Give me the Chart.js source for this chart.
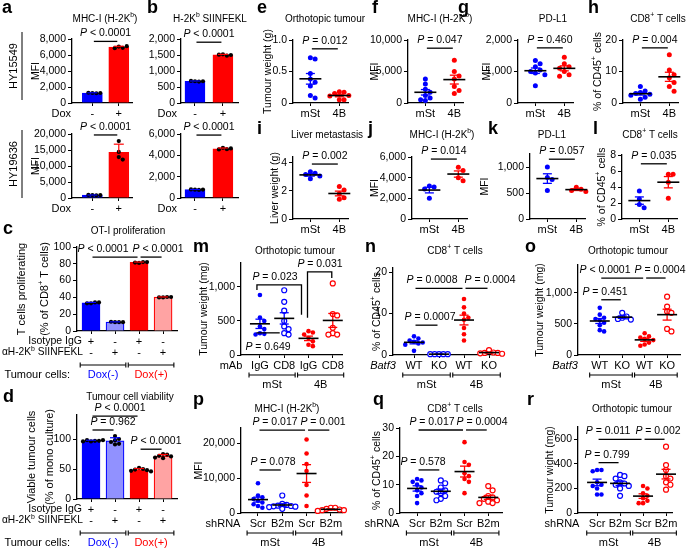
<!DOCTYPE html>
<html>
<head>
<meta charset="utf-8">
<script src="https://cdn.jsdelivr.net/npm/chart.js@4.4.0/dist/chart.umd.min.js"></script>
<style>
  html, body { margin: 0; padding: 0; background: #fff; }
  #fig { position: relative; width: 686px; height: 548px; overflow: hidden; }
  #fig canvas { position: absolute; left: 0; top: 0; }
</style>
</head>
<body>
<div id="fig"></div>
<script>
// ---- data ----
// a / b: MFI, Dox - / +, two cell lines
const doxTicks = ['-', '+']
const aHY15549Neg = [1250, 1220, 1280, 1250]
const aHY15549Pos = [7050, 6900, 6850, 7100]
const aHY19636Neg = [900, 850, 950, 900]
const aHY19636Pos = [17800, 14400, 12800, 12000]
const bHY15549Neg = [680, 670, 690, 680]
const bHY15549Pos = [1520, 1480, 1510, 1500]
const bHY19636Neg = [780, 760, 800, 790]
const bHY19636Pos = [4700, 4580, 4550, 4650]

// c / d: co-culture, isotype IgG vs anti-H-2Kb SIINFEKL
const treatTicks = [['+', '-'], ['-', '+'], ['+', '-'], ['-', '+']]
const cIgGNeg = [33, 34, 33, 34]
const cAbNeg = [10.5, 10.5, 11, 10.5]
const cIgGPos = [81, 82, 81.5, 82]
const cAbPos = [40, 40.5, 40, 40.5]
const dIgGNeg = [96, 97, 98, 97, 96, 98]
const dAbNeg = [105, 100, 98, 95, 92, 91]
const dIgGPos = [52, 50, 49, 48, 47, 46]
const dAbPos = [75, 74, 72, 71, 69, 68]

// e - l: mSt vs 4B
const pairTicks = ['mSt', '4B']
const eMSt = [0.72, 0.70, 0.47, 0.38, 0.33, 0.27, 0.12, 0.08]
const eFourB = [0.18, 0.17, 0.15, 0.12, 0.11, 0.05, 0.05]
const fMSt = [3800, 3000, 2200, 1700, 1200, 800, 500, 400]
const fFourB = [6800, 5000, 4300, 3800, 2600, 2000, 1500]
const gMSt = [1350, 1250, 1150, 1050, 1000, 950, 900, 550]
const gFourB = [1450, 1250, 1150, 1100, 1000, 900, 850]
const hMSt = [5.2, 3.8, 3.3, 3.0, 2.8, 2.5, 1.8, 1.2]
const hFourB = [15.3, 10.5, 9.0, 8.0, 6.5, 5.2, 3.7]
const iMSt = [3.35, 3.25, 3.15, 3.05, 2.85]
const iFourB = [2.3, 2.05, 1.8, 1.5, 1.4]
const jMSt = [3200, 3100, 2900, 2000]
const jFourB = [5000, 4700, 4000, 3700]
const kMSt = [1000, 800, 760, 550]
const kFourB = [610, 570, 550, 530]
const lMSt = [3.5, 2.5, 1.8, 1.4]
const lFourB = [5.6, 5.6, 4.6, 2.6]

// m: antibody depletion
const mAbTicks = ['IgG', 'CD8', 'IgG', 'CD8']
const mIgGMSt = [880, 550, 500, 420, 380, 320, 310, 300]
const mCD8MSt = [950, 780, 650, 500, 420, 380, 320, 300]
const mIgGFourB = [350, 330, 300, 250, 200, 150, 130]
const mCD8FourB = [1050, 600, 580, 400, 320, 300, 300]

// n / o: Batf3 WT vs KO hosts
const batfTicks = ['WT', 'KO', 'WT', 'KO']
const nWTMSt = [4.5, 4.0, 3.5, 3.2, 3.0, 2.8, 2.5, 1.0]
const nKOMSt = [0.2, 0.2, 0.2, 0.2, 0.2]
const nWTFourB = [13.5, 11.5, 10.0, 9.0, 8.5, 6.5, 5.0, 3.5]
const nKOFourB = [1.2, 0.6, 0.5, 0.5, 0.4, 0.3]
const oWTMSt = [760, 650, 600, 580, 560, 520, 480, 400, 380]
const oKOMSt = [680, 620, 600, 580, 570]
const oWTFourB = [350, 300, 280, 260, 240, 200, 170, 150]
const oKOFourB = [940, 780, 700, 680, 420, 380]

// p - r: shRNA Scr vs B2m
const shTicks = ['Scr', 'B2m', 'Scr', 'B2m']
const pScrMSt = [8500, 5000, 4500, 4000, 3500, 3000, 2500, 2000, 1500]
const pB2mMSt = [5000, 2600, 2300, 2100, 2000, 1900, 1800, 1700, 1200]
const pScrFourB = [21000, 17000, 14000, 12000, 8000, 5000, 2000]
const pB2mFourB = [1500, 1500, 1200, 1000, 800, 800, 600]
const qScrMSt = [12, 11.5, 11, 10, 9, 8, 7, 6, 3.5]
const qB2mMSt = [11.5, 10.5, 9, 8, 7.5, 7, 6, 5, 4.5]
const qScrFourB = [25, 18, 17, 14, 13, 12, 11, 7]
const qB2mFourB = [9.5, 8, 6, 5.5, 5, 4.5, 4, 3.5, 3.5]
const rScrMSt = [350, 350, 340, 250, 230, 220, 200, 150, 150]
const rB2mMSt = [310, 300, 280, 250, 240, 230, 220, 200, 140]
const rScrFourB = [220, 200, 160, 140, 120, 100, 80, 80]
const rB2mFourB = [540, 390, 350, 300, 280, 250, 230, 190]

// ---- drawing ----
const W = 686
const H = 548
const FONT = "'Liberation Sans', Arial, Helvetica, sans-serif"
const BLUE = '#0000ff'
const RED = '#ff0000'
const LBLUE = '#9191ff'
const PINK = '#ffa3a3'
Chart.defaults.font.family = FONT
Chart.defaults.color = '#000'

const mean = (a) => a.reduce((s, v) => s + v, 0) / a.length
const sd = (a) => {
  const m = mean(a)
  return Math.sqrt(a.reduce((s, v) => s + (v - m) ** 2, 0) / (a.length - 1))
}
const sem = (a) => sd(a) / Math.sqrt(a.length)

// text with *italic* and ^superscript^ parts
function rich (ctx, s, x, y, size, align, color) {
  const parts = s.split(/(\*[^*]+\*|\^[^^]+\^)/).filter(Boolean).map(t => {
    if (t[0] === '*') return { t: t.slice(1, -1), st: 'italic ', sz: size, dy: 0 }
    if (t[0] === '^') return { t: t.slice(1, -1), st: '', sz: size * 0.68, dy: -size * 0.38 }
    return { t, st: '', sz: size, dy: 0 }
  })
  let w = 0
  parts.forEach(q => {
    ctx.font = `${q.st}${q.sz}px ${FONT}`
    q.w = ctx.measureText(q.t).width
    w += q.w
  })
  let cx = align === 'center' ? x - w / 2 : align === 'right' ? x - w : x
  ctx.fillStyle = color || '#000'
  ctx.textAlign = 'left'
  ctx.textBaseline = 'middle'
  parts.forEach(q => {
    ctx.font = `${q.st}${q.sz}px ${FONT}`
    ctx.fillText(q.t, cx, y + q.dy)
    cx += q.w
  })
}

function vtext (ctx, s, x, y, size) {
  ctx.save()
  ctx.translate(x, y)
  ctx.rotate(-Math.PI / 2)
  rich(ctx, s, 0, 0, size, 'center')
  ctx.restore()
}

function line (ctx, pts, lw, color) {
  ctx.strokeStyle = color || '#000'
  ctx.lineWidth = lw
  ctx.beginPath()
  pts.forEach(([x, y], i) => (i ? ctx.lineTo(x, y) : ctx.moveTo(x, y)))
  ctx.stroke()
}

// horizontal spreading of overlapping dots (beeswarm)
function spread (vals, gi, p, r) {
  const pxY = (p.B - p.T) / p.yMax
  const pxX = (p.R - p.L) / (p.xmax - p.xmin)
  const d = r * 2
  const placed = []
  return vals.map(v => {
    const y = v * pxY
    let off = 0
    for (const c of [0, 1, -1, 2, -2, 3, -3, 4, -4]) {
      const ox = c * d * 0.95
      if (placed.every(q => Math.hypot(q.x - ox, q.y - y) >= d * 0.95)) { off = ox; break }
    }
    placed.push({ x: off, y })
    return { x: gi + off / pxX, y: v }
  })
}

function decoPlugin (p) {
  return {
    id: 'deco',
    afterDatasetsDraw (chart) {
      const { ctx } = chart
      const xs = chart.scales.x
      const ys = chart.scales.y
      p.groups.forEach((g, i) => {
        const x = xs.getPixelForValue(i)
        const m = mean(g.data)
        if (p.kind === 'bar') {
          const top = ys.getPixelForValue(m + sd(g.data))
          line(ctx, [[x, ys.getPixelForValue(m)], [x, top]], 1.2, g.edge)
          line(ctx, [[x - 5, top], [x + 5, top]], 1.2, g.edge)
        } else {
          const e = sem(g.data)
          const y0 = ys.getPixelForValue(m - e)
          const y1 = ys.getPixelForValue(m + e)
          const hw = p.meanW || 11
          line(ctx, [[x, y0], [x, y1]], 1.3, g.color)
          line(ctx, [[x - 4.5, y0], [x + 4.5, y0]], 1.3, g.color)
          line(ctx, [[x - 4.5, y1], [x + 4.5, y1]], 1.3, g.color)
          line(ctx, [[x - hw, ys.getPixelForValue(m)], [x + hw, ys.getPixelForValue(m)]], 1.6, '#000')
        }
      })
    },
    afterDraw (chart) {
      const { ctx } = chart
      const xs = chart.scales.x
      const ys = chart.scales.y
      if (p.letter) {
        ctx.font = `bold 18px ${FONT}`
        ctx.fillStyle = '#000'
        ctx.textAlign = 'left'
        ctx.textBaseline = 'alphabetic'
        ctx.fillText(p.letter[0], p.letter[1], p.letter[2])
      }
      if (p.title) rich(ctx, p.title[0], p.title[1], p.title[2], 10, 'center')
      const yc = (p.T + p.B) / 2
      ;(p.yTitles || []).forEach(([t, x]) => vtext(ctx, t, x, yc, p.yTitleSize || 10.5))
      if (p.side) {
        const s = p.side
        vtext(ctx, s.t, s.x, (s.y0 + s.y1) / 2, 11)
        line(ctx, [[s.lx, s.y0], [s.lx, s.y1]], 1, '#000')
      }
      ;(p.rows || []).forEach(r => rich(ctx, r.t, r.x, r.y, r.size || 11, r.align || 'right', r.color))
      ;(p.brackets || []).forEach(b => {
        const x0 = xs.getPixelForValue(b.i0 - 0.45)
        const x1 = xs.getPixelForValue(b.i1 + 0.45)
        line(ctx, [[x0, p.bracketY], [x1, p.bracketY]], 1.1, '#000')
        line(ctx, [[x0, p.bracketY - 2.5], [x0, p.bracketY + 2.5]], 1.1, '#000')
        line(ctx, [[x1, p.bracketY - 2.5], [x1, p.bracketY + 2.5]], 1.1, '#000')
        rich(ctx, b.t, (x0 + x1) / 2, p.bracketLabelY, 11, 'center', b.color)
      })
      ;(p.pvals || []).forEach(a => {
        const yy = ys.getPixelForValue(a.y)
        const xa = xs.getPixelForValue(a.a) + (a.aOff || 0)
        const xb = xs.getPixelForValue(a.b) + (a.bOff || 0)
        if (a.legA !== undefined) {
          line(ctx, [[xa, ys.getPixelForValue(a.legA)], [xa, yy], [xb, yy], [xb, ys.getPixelForValue(a.legB)]], 1.3)
        } else {
          line(ctx, [[xa + 1.5, yy], [xb - 1.5, yy]], 1.3)
        }
        const tx = a.tx !== undefined ? a.tx : (xa + xb) / 2
        rich(ctx, a.t, tx, a.below ? yy + 14 : yy - 8, 10.5, 'center')
      })
    }
  }
}

function makePanel (p) {
  const cv = document.createElement('canvas')
  cv.width = W
  cv.height = H
  document.getElementById('fig').appendChild(cv)
  const datasets = []
  const r = p.kind === 'bar' ? 2.1 : (p.r || 2.5)
  if (p.kind === 'bar') {
    datasets.push({
      type: 'bar',
      data: p.groups.map((g, i) => ({ x: i, y: mean(g.data) })),
      backgroundColor: p.groups.map(g => g.fill),
      borderColor: p.groups.map(g => g.edge),
      borderWidth: 1.2,
      barThickness: p.barW,
      order: 2
    })
  }
  p.groups.forEach((g, i) => {
    const col = p.kind === 'bar' ? '#000' : g.color
    datasets.push({
      type: 'scatter',
      data: spread(g.data, i, p, r),
      pointRadius: g.open ? r + 0.2 : r,
      pointBackgroundColor: g.open ? '#fff' : col,
      pointBorderColor: col,
      pointBorderWidth: g.open ? 1.2 : 0,
      clip: false,
      order: 1
    })
  })
  const ticks = []
  for (let v = 0; v <= p.yMax + 1e-9; v += p.step) ticks.push({ value: Math.round(v * 1000) / 1000 })
  const fmt = p.fmt || (v => v.toLocaleString('en-US'))
  return new Chart(cv, {
    type: 'scatter',
    data: { datasets },
    options: {
      responsive: false,
      animation: false,
      events: [],
      layout: { padding: { left: p.L - 40, top: p.T, right: W - p.R, bottom: 0 } },
      plugins: { legend: { display: false }, tooltip: { enabled: false } },
      scales: {
        x: {
          type: 'linear',
          offset: false, // a bar dataset would otherwise pad the linear axis
          min: p.xmin,
          max: p.xmax,
          afterBuildTicks: s => { s.ticks = p.groups.map((g, i) => ({ value: i })) },
          afterFit: s => { s.height = H - p.B },
          grid: { display: true, offset: false, drawOnChartArea: false, tickLength: 3, color: '#000', lineWidth: 1 },
          border: { color: '#000', width: 1.3 },
          ticks: {
            autoSkip: false,
            maxRotation: 0,
            padding: 2,
            color: '#000',
            font: { size: 11, lineHeight: 1 },
            callback: v => p.xTicks[v]
          }
        },
        y: {
          type: 'linear',
          min: 0,
          max: p.yMax,
          afterBuildTicks: s => { s.ticks = ticks.map(t => ({ value: t.value })) },
          afterFit: s => { s.width = 40 },
          grid: { display: true, drawOnChartArea: false, tickLength: 4, color: '#000', lineWidth: 1 },
          border: { color: '#000', width: 1.3 },
          ticks: { padding: 2, color: '#000', font: { size: 10.5 }, callback: v => fmt(v) }
        }
      }
    },
    plugins: [decoPlugin(p)]
  })
}

const bar = (data, fill, edge) => ({ data, fill, edge: edge || fill })
const dots = (data, color, open) => ({ data, color, open: !!open })
const twoDot = o => Object.assign({ kind: 'dot', xmin: -0.6, xmax: 1.3, xTicks: pairTicks }, o, { R: o.L + 55 })
const fourDot = o => Object.assign({
  kind: 'dot',
  meanW: 10,
  r: 2.3,
  brackets: [{ i0: 0, i1: 1, t: 'mSt' }, { i0: 2, i1: 3, t: '4B' }]
}, o)

const panels = [
  // a
  { kind: 'bar', letter: ['a', 2, 13], title: ['MHC-I (H-2K^b^)', 105, 19], L: 72, R: 132, T: 39, B: 103, yMax: 8000, step: 2000, xmin: -0.77, xmax: 1.5, barW: 20,
    groups: [bar(aHY15549Neg, BLUE), bar(aHY15549Pos, RED)], xTicks: doxTicks,
    rows: [{ t: 'Dox', x: 71, y: 113.5 }], yTitles: [['MFI', 36]],
    side: { t: 'HY15549', x: 14, lx: 22, y0: 32, y1: 100 },
    pvals: [{ a: 0, b: 1, y: 7700, t: '*P* < 0.0001' }] },
  { kind: 'bar', L: 72, R: 132, T: 134, B: 198, yMax: 20000, step: 5000, xmin: -0.77, xmax: 1.5, barW: 20,
    groups: [bar(aHY19636Neg, BLUE), bar(aHY19636Pos, RED)], xTicks: doxTicks,
    rows: [{ t: 'Dox', x: 71, y: 208.5 }], yTitles: [['MFI', 36]],
    side: { t: 'HY19636', x: 14, lx: 22, y0: 130, y1: 198 },
    pvals: [{ a: 0, b: 1, y: 19700, t: '*P* < 0.0001' }] },
  // b
  { kind: 'bar', letter: ['b', 147, 13], title: ['H-2K^b^ SIINFEKL', 210, 19], L: 181, R: 238, T: 39, B: 103, yMax: 2000, step: 500, xmin: -0.5, xmax: 1.54, barW: 20,
    groups: [bar(bHY15549Neg, BLUE), bar(bHY15549Pos, RED)], xTicks: doxTicks,
    rows: [{ t: 'Dox', x: 177, y: 113.5 }],
    pvals: [{ a: 0, b: 1, y: 1900, t: '*P* < 0.0001' }] },
  { kind: 'bar', L: 181, R: 238, T: 134, B: 198, yMax: 6000, step: 2000, xmin: -0.5, xmax: 1.54, barW: 20,
    groups: [bar(bHY19636Neg, BLUE), bar(bHY19636Pos, RED)], xTicks: doxTicks,
    rows: [{ t: 'Dox', x: 177, y: 208.5 }],
    pvals: [{ a: 0, b: 1, y: 5900, t: '*P* < 0.0001' }] },
  // c
  { kind: 'bar', letter: ['c', 3, 234], title: ['OT-I proliferation', 128, 231], L: 77, R: 177, T: 247, B: 331, yMax: 100, step: 20, xmin: -0.583, xmax: 3.58, barW: 18,
    groups: [bar(cIgGNeg, BLUE), bar(cAbNeg, LBLUE, BLUE), bar(cIgGPos, RED), bar(cAbPos, PINK, RED)], xTicks: treatTicks,
    rows: [{ t: 'Isotype IgG', x: 82, y: 341.5, size: 10.5 }, { t: 'αH-2K^b^ SIINFEKL', x: 83, y: 352.5, size: 10.2 }, { t: 'Tumour cells:', x: 70, y: 375 }],
    brackets: [{ i0: 0, i1: 1, t: 'Dox(-)', color: BLUE }, { i0: 2, i1: 3, t: 'Dox(+)', color: RED }], bracketY: 365, bracketLabelY: 375,
    yTitles: [['T cells proliferating', 22], ['(% of CD8^+^ T cells)', 45]], yTitleSize: 11,
    pvals: [{ a: 0, b: 2, y: 88, t: '*P* < 0.0001', tx: 103 }, { a: 2, b: 3, y: 88, t: '*P* < 0.0001', tx: 158 }] },
  // d
  { kind: 'bar', letter: ['d', 3, 402], title: ['Tumour cell viability', 130, 397], L: 77, R: 177, T: 415, B: 499, yMax: 140, step: 50, xmin: -0.583, xmax: 3.58, barW: 18,
    groups: [bar(dIgGNeg, BLUE), bar(dAbNeg, LBLUE, BLUE), bar(dIgGPos, RED), bar(dAbPos, PINK, RED)], xTicks: treatTicks,
    rows: [{ t: 'Isotype IgG', x: 82, y: 509.5, size: 10.5 }, { t: 'αH-2K^b^ SIINFEKL', x: 83, y: 520.5, size: 10.2 }, { t: 'Tumour cells:', x: 70, y: 543 }],
    brackets: [{ i0: 0, i1: 1, t: 'Dox(-)', color: BLUE }, { i0: 2, i1: 3, t: 'Dox(+)', color: RED }], bracketY: 533, bracketLabelY: 543,
    yTitles: [['Viable tumour cells', 32], ['(% of mono culture)', 50]], yTitleSize: 11,
    pvals: [{ a: 0, b: 2, y: 138, t: '*P* < 0.0001', tx: 120 }, { a: 0, b: 1, y: 115, t: '*P* = 0.962', tx: 113 }, { a: 2, b: 3, y: 83, t: '*P* < 0.0001', tx: 156 }] },
  // e - h
  twoDot({ letter: ['e', 257, 13], title: ['Orthotopic tumour', 325, 19], L: 293, T: 40, B: 103, yMax: 1, step: 0.5, fmt: v => (v === 0 ? '0' : v.toFixed(1)),
    groups: [dots(eMSt, BLUE), dots(eFourB, RED)], yTitles: [['Tumour weight (g)', 268]], pvals: [{ a: 0, b: 1, y: 0.86, t: '*P* = 0.012' }] }),
  twoDot({ letter: ['f', 372, 13], title: ['MHC-I (H-2K^b^)', 440, 19], L: 408, T: 40, B: 103, yMax: 10000, step: 5000,
    groups: [dots(fMSt, BLUE), dots(fFourB, RED)], yTitles: [['MFI', 375]], pvals: [{ a: 0, b: 1, y: 8700, t: '*P* = 0.047' }] }),
  twoDot({ letter: ['g', 458, 13], title: ['PD-L1', 553, 19], L: 518, T: 40, B: 103, yMax: 2000, step: 1000,
    groups: [dots(gMSt, BLUE), dots(gFourB, RED)], yTitles: [['MFI', 487]], pvals: [{ a: 0, b: 1, y: 1750, t: '*P* = 0.460' }] }),
  twoDot({ letter: ['h', 588, 13], title: ['CD8^+^ T cells', 658, 19], L: 623, T: 40, B: 103, yMax: 20, step: 10,
    groups: [dots(hMSt, BLUE), dots(hFourB, RED)], yTitles: [['% of CD45^+^ cells', 598]], pvals: [{ a: 0, b: 1, y: 17.5, t: '*P* = 0.004' }] }),
  // i - l
  twoDot({ letter: ['i', 257, 134], title: ['Liver metastasis', 327, 135], L: 293, T: 157, B: 219, yMax: 4.4, step: 1,
    groups: [dots(iMSt, BLUE), dots(iFourB, RED)], yTitles: [['Liver weight (g)', 275]], pvals: [{ a: 0, b: 1, y: 3.9, t: '*P* = 0.002' }] }),
  twoDot({ letter: ['j', 368, 134], title: ['MHC-I (H-2K^b^)', 442, 135], L: 412, T: 157, B: 219, yMax: 6000, step: 2000,
    groups: [dots(jMSt, BLUE), dots(jFourB, RED)], yTitles: [['MFI', 375]], pvals: [{ a: 0, b: 1, y: 5800, t: '*P* = 0.014' }] }),
  twoDot({ letter: ['k', 488, 134], title: ['PD-L1', 552, 135], L: 530, T: 154, B: 219, yMax: 1250, step: 500,
    groups: [dots(kMSt, BLUE), dots(kFourB, RED)], yTitles: [['MFI', 485]], pvals: [{ a: 0, b: 1, y: 1150, t: '*P* = 0.057' }] }),
  twoDot({ letter: ['l', 593, 134], title: ['CD8^+^ T cells', 650, 135], L: 622, T: 155, B: 219, yMax: 8, step: 2,
    groups: [dots(lMSt, BLUE), dots(lFourB, RED)], yTitles: [['% of CD45^+^ cells', 602]], pvals: [{ a: 0, b: 1, y: 6.9, t: '*P* = 0.035' }] }),
  // m - o
  fourDot({ letter: ['m', 193, 252], title: ['Orthotopic tumour', 295, 251], L: 241, R: 342, T: 263, B: 355, yMax: 1350, step: 500, xmin: -0.78, xmax: 3.38,
    groups: [dots(mIgGMSt, BLUE), dots(mCD8MSt, BLUE, true), dots(mIgGFourB, RED), dots(mCD8FourB, RED, true)], xTicks: mAbTicks,
    rows: [{ t: 'mAb', x: 231, y: 365.5, align: 'center' }], bracketY: 375, bracketLabelY: 385,
    yTitles: [['Tumour weight (mg)', 204]],
    pvals: [{ a: 0, b: 2, y: 1030, t: '*P* = 0.023', aOff: -3, bOff: -7, legA: 955, legB: 590, tx: 275 },
      { a: 2, b: 3, y: 1220, t: '*P* = 0.031', aOff: -1, bOff: -1, legA: 545, legB: 1130, tx: 320 },
      { a: 0, b: 1, y: 325, t: '*P* = 0.649', aOff: -5, bOff: -3, below: true, tx: 268 }] }),
  fourDot({ letter: ['n', 365, 252], title: ['CD8^+^ T cells', 455, 251], L: 393, R: 502, T: 268, B: 355, yMax: 21, step: 10, xmin: -0.84, xmax: 3.52,
    groups: [dots(nWTMSt, BLUE), dots(nKOMSt, BLUE, true), dots(nWTFourB, RED), dots(nKOFourB, RED, true)], xTicks: batfTicks,
    rows: [{ t: '*Batf3*', x: 383, y: 365.5, align: 'center' }], bracketY: 375, bracketLabelY: 385,
    yTitles: [['% of CD45^+^ cells', 377]],
    pvals: [{ a: 0, b: 2, y: 16.1, t: '*P* = 0.0008', tx: 432 }, { a: 2, b: 3, y: 16.1, t: '*P* = 0.0004', tx: 490 },
      { a: 0, b: 1, y: 7.2, t: '*P* = 0.0007', tx: 430 }] }),
  fourDot({ letter: ['o', 525, 252], title: ['Orthotopic tumour', 628, 251], L: 578, R: 682, T: 265, B: 355, yMax: 1450, step: 500, xmin: -0.97, xmax: 3.61,
    groups: [dots(oWTMSt, BLUE), dots(oKOMSt, BLUE, true), dots(oWTFourB, RED), dots(oKOFourB, RED, true)], xTicks: batfTicks,
    rows: [{ t: '*Batf3*', x: 565, y: 365.5, align: 'center' }], bracketY: 375, bracketLabelY: 385,
    yTitles: [['Tumour weight (mg)', 540]],
    pvals: [{ a: 0, b: 2, y: 1240, t: '*P* < 0.0001', tx: 605 }, { a: 2, b: 3, y: 1240, t: '*P* = 0.0004', tx: 660 },
      { a: 0, b: 1, y: 890, t: '*P* = 0.451', tx: 605 }] }),
  // p - r
  fourDot({ letter: ['p', 193, 405], title: ['MHC-I (H-2K^b^)', 287, 409], L: 241, R: 342, T: 428, B: 513, yMax: 24300, step: 10000, xmin: -0.7, xmax: 3.46,
    groups: [dots(pScrMSt, BLUE), dots(pB2mMSt, BLUE, true), dots(pScrFourB, RED), dots(pB2mFourB, RED, true)], xTicks: shTicks,
    rows: [{ t: 'shRNA', x: 223, y: 523.5, align: 'center' }], bracketY: 533, bracketLabelY: 543,
    yTitles: [['MFI', 199]],
    pvals: [{ a: 0, b: 2, y: 23700, t: '*P* = 0.017', tx: 275 }, { a: 2, b: 3, y: 23700, t: '*P* = 0.001', tx: 323 },
      { a: 0, b: 1, y: 12300, t: '*P* = 0.078', tx: 273 }] }),
  fourDot({ letter: ['q', 373, 405], title: ['CD8^+^ T cells', 455, 409], L: 400, R: 502, T: 428, B: 513, yMax: 30, step: 10, xmin: -0.72, xmax: 3.58,
    groups: [dots(qScrMSt, BLUE), dots(qB2mMSt, BLUE, true), dots(qScrFourB, RED), dots(qB2mFourB, RED, true)], xTicks: shTicks,
    rows: [{ t: 'shRNA', x: 382, y: 523.5, align: 'center' }], bracketY: 533, bracketLabelY: 543,
    yTitles: [['% of CD45^+^ cells', 377]],
    pvals: [{ a: 0, b: 2, y: 29.3, t: '*P* = 0.017', tx: 432 }, { a: 2, b: 3, y: 29.3, t: '*P* = 0.0004', tx: 482 },
      { a: 0, b: 1, y: 15.2, t: '*P* = 0.578', tx: 423 }] }),
  fourDot({ letter: ['r', 527, 405], title: ['Orthotopic tumour', 632, 409], L: 578, R: 672, T: 427, B: 513, yMax: 700, step: 200, xmin: -0.83, xmax: 3.26,
    groups: [dots(rScrMSt, BLUE), dots(rB2mMSt, BLUE, true), dots(rScrFourB, RED), dots(rB2mFourB, RED, true)], xTicks: shTicks,
    rows: [{ t: 'shRNA', x: 562, y: 523.5, align: 'center' }], bracketY: 533, bracketLabelY: 543,
    yTitles: [['Tumour wight (mg)', 550]],
    pvals: [{ a: 0, b: 2, y: 600, t: '*P* = 0.011', tx: 608 }, { a: 2, b: 3, y: 600, t: '*P* = 0.002', tx: 658 },
      { a: 0, b: 1, y: 410, t: '*P* = 0.799', tx: 607 }] })
]

panels.forEach(makePanel)
</script>
</body>
</html>
